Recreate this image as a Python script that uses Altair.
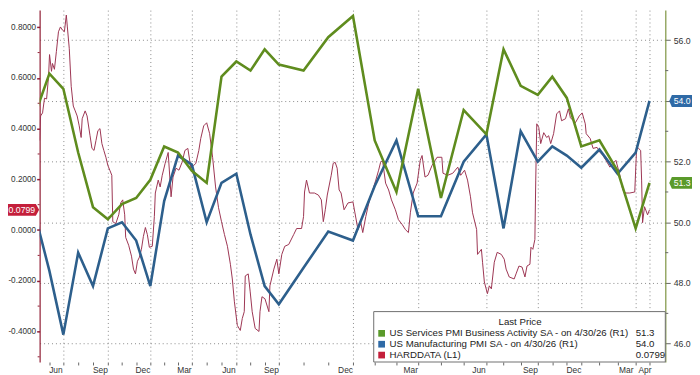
import altair as alt
import pandas as pd

# ---------------- data (month index: 0 = Jun 2023 month-end, 34 = Apr 2026) -------------
MONTH_IDX = list(range(-2, 35))
SERVICES = [53.6, 54.9, 54.4, 52.3, 50.5, 50.1, 50.6, 50.8, 51.4,
            52.5, 52.3, 51.7, 51.3, 54.8, 55.3, 55.0, 55.7, 55.2, 55.0, 56.1, 56.8,
            52.7, 51.0, 54.4, 50.8, 53.7, 52.9, 55.7, 54.5, 54.2, 54.8, 54.1, 52.5,
            52.7, 51.7, 49.8, 51.3]
MANUF = [50.2, 48.4, 46.3, 49.0, 47.9, 49.8, 50.0, 49.4, 47.9,
         50.7, 52.2, 51.9, 50.0, 51.3, 51.6, 49.6, 47.9, 47.3, 48.5, 49.7, 49.4,
         51.2, 52.7, 50.2, 50.2, 52.0, 52.9, 49.8, 53.0, 52.0, 52.5, 52.2, 51.8,
         52.4, 51.6, 52.3, 54.0]

HARD_M = [-1.70, -1.63, -1.49, -1.35, -1.20, -1.06, -0.99, -0.85, -0.78, -0.64, -0.50, -0.35, -0.21, -0.07,
          0.07, 0.20, 0.27, 0.40, 0.53, 0.67, 0.80, 0.93, 1.07, 1.20, 1.27, 1.47, 1.60, 1.80, 1.93, 2.07,
          2.20, 2.33, 2.47, 2.60, 2.73, 2.87, 3.00,
          3.14, 3.28, 3.35, 3.56, 3.77, 3.91, 4.05, 4.19, 4.26, 4.47, 4.67, 4.81, 4.95, 5.09, 5.23, 5.37,
          5.51, 5.65, 5.79, 5.93,
          6.14, 6.29, 6.36, 6.57, 6.71, 6.86, 7.07, 7.29, 7.50, 7.64, 7.86, 8.07, 8.29, 8.50, 8.71, 8.93,
          9.13, 9.27, 9.47, 9.60, 9.80, 10.00, 10.20, 10.40, 10.60, 10.80, 11.00, 11.20, 11.40, 11.60,
          11.73, 11.87,
          12.07, 12.28, 12.42, 12.56, 12.63, 12.84, 12.98, 13.12, 13.33, 13.60, 13.67, 13.81, 14.02,
          14.30, 14.37, 14.65, 14.86,
          15.00, 15.12, 15.24, 15.40, 15.60, 15.72, 15.92, 16.00, 16.04, 16.12, 16.24, 16.44, 16.60,
          16.72, 16.80, 16.88, 16.96, 17.12, 17.20, 17.28, 17.36, 17.44, 17.52, 17.64, 17.80,
          18.00, 18.09, 18.23, 18.36, 18.45, 18.59, 18.73, 18.91, 19.05, 19.18, 19.27, 19.36, 19.50,
          19.64, 19.77, 19.95, 20.09, 20.27, 20.41, 20.55, 20.64, 20.77, 20.95,
          21.09, 21.17, 21.30, 21.43, 21.61, 21.83, 22.04, 22.09, 22.30, 22.52, 22.74, 22.87, 23.04,
          23.17, 23.30, 23.39, 23.57, 23.61, 23.78, 23.83, 23.91,
          24.06, 24.17, 24.29, 24.46, 24.63, 24.87, 25.04, 25.15, 25.33, 25.62, 25.73, 25.90, 26.08,
          26.25, 26.37, 26.54, 26.60, 26.71, 26.83, 26.88, 26.94,
          27.07, 27.20, 27.41, 27.61, 27.75, 27.89, 28.09, 28.30, 28.50, 28.64, 28.91, 29.11, 29.25,
          29.59, 29.86,
          30.05, 30.22, 30.27, 30.49, 30.65, 30.87, 31.04, 31.20, 31.36, 31.58, 31.75, 31.91, 32.13,
          32.29, 32.45, 32.67, 32.95,
          33.07, 33.21, 33.36, 33.43, 33.50, 33.64, 33.86, 34.00]
HARD_V = [0.353, 0.450, 0.462, 0.520, 0.517, 0.606, 0.692, 0.626, 0.657, 0.634, 0.704, 0.782, 0.801, 0.789,
          0.782, 0.848, 0.801, 0.715, 0.567, 0.489, 0.470, 0.450, 0.411, 0.365, 0.439, 0.470, 0.450, 0.372,
          0.322, 0.314, 0.353, 0.392, 0.400, 0.341, 0.314, 0.287, 0.255,
          0.236, 0.216, 0.033, 0.025, 0.060, 0.107, 0.119, 0.060, -0.029, -0.060, -0.103, -0.154, -0.173,
          -0.123, -0.107, -0.076, -0.025, 0.010, -0.018, -0.068,
          -0.064, 0.053, 0.146, 0.197, 0.170, 0.216, 0.263, 0.306, 0.131, 0.209, 0.244, 0.236, 0.267,
          0.314, 0.322, 0.244,
          0.255, 0.263, 0.314, 0.361, 0.411, 0.423, 0.380, 0.287, 0.170, 0.088, 0.033, -0.018, -0.064,
          -0.135, -0.193, -0.283,
          -0.376, -0.396, -0.349, -0.322, -0.181, -0.173, -0.244, -0.322, -0.388, -0.400, -0.322, -0.263,
          -0.271, -0.322, -0.220, -0.154, -0.115,
          -0.173, -0.096, -0.064, -0.057, -0.018, 0.006, 0.006, 0.053, 0.150, 0.197, 0.146, 0.146, 0.138,
          0.119, 0.033, 0.080, 0.138, 0.216, 0.263, 0.267, 0.244, 0.158, 0.146, 0.080, 0.107,
          0.111, 0.068, 0.002, 0.029, -0.010, 0.053, 0.107, 0.158, 0.197, 0.236, 0.267, 0.275, 0.185,
          0.158, 0.119, 0.080, 0.041, 0.021, 0.002, -0.010, 0.068, 0.146, 0.185,
          0.275, 0.294, 0.209, 0.216, 0.255, 0.287, 0.287, 0.224, 0.216, 0.224, 0.248, 0.216, 0.236,
          0.197, 0.131, 0.068, 0.002, -0.096, -0.076, -0.127, -0.205,
          -0.251, -0.220, -0.232, -0.127, -0.088, -0.096, -0.115, -0.154, -0.185, -0.193, -0.173, -0.142,
          -0.146, -0.185, -0.142, -0.135, -0.068, -0.076, -0.037, 0.197, 0.419,
          0.404, 0.341, 0.384, 0.365, 0.372, 0.341, 0.380, 0.458, 0.470, 0.431, 0.439, 0.478, 0.443,
          0.423, 0.450,
          0.462, 0.419, 0.380, 0.361, 0.322, 0.326, 0.306, 0.294, 0.275, 0.248, 0.263, 0.275, 0.216,
          0.158, 0.146, 0.146, 0.150,
          0.326, 0.322, 0.314, 0.197, 0.029, 0.092, 0.060, 0.0799]

QUARTER_NAMES = ["Jun", "Sep", "Dec", "Mar"]
LAST_LABEL = "Apr"
LEFT_TICKS = [-0.4, -0.2, 0.0, 0.2, 0.4, 0.6, 0.8]
LEFT_MINOR = [-0.5, -0.3, -0.1, 0.1, 0.3, 0.5, 0.7]
RIGHT_TICKS = [46, 48, 50, 52, 54, 56]
RIGHT_MINOR = [47, 49, 51, 53, 55]
LEGEND_NAMES = ["US Services PMI Business Activity SA -  on 4/30/26  (R1)",
                "US Manufacturing PMI SA -  on 4/30/26  (R1)",
                "HARDDATA  (L1)"]
LEGEND_VALUES = [f"{SERVICES[-1]:.1f}", f"{MANUF[-1]:.1f}", f"{HARD_V[-1]:.4f}"]

# ---------------- styling ----------------
GREEN = "#5f8c1e"
BLUE = "#2d5f8c"
RED = "#9c3552"
TAG_RED = "#c41f3b"
TAG_BLUE = "#2f6aa6"
TAG_GREEN = "#5a9a2a"
AXIS_RED = "#8f1c33"
AXIS_GREEN = "#7d9440"
GRID = "#8a8a8a"
FONT = "Liberation Sans, Arial, sans-serif"
AX_FS = 8.8
LEFT_FS = 8.3

W, H = 633, 356
# piecewise x scale (the source chart spaces its quarters unevenly)
X_DOMAIN = [-1.7, 0, 3, 6, 9, 12, 15, 18, 21, 24, 27, 30, 33, 34, 35]
X_RANGE = [0, 24, 69, 112, 154, 199, 242, 317, 383, 452, 504, 548, 603, 617, 633]
x_scale = alt.Scale(domain=X_DOMAIN, range=X_RANGE, zero=False, nice=False)
left_scale = alt.Scale(domain=[-0.5205, 0.8674], zero=False, nice=False)
right_scale = alt.Scale(domain=[45.397, 56.993], zero=False, nice=False)

label_expr = ("datum.value == 34 ? '" + LAST_LABEL + "' : (datum.value % 3 == 0 ? "
              + str(QUARTER_NAMES) + "[(datum.value / 3) % 4] : '')")
x_axis = alt.Axis(values=list(range(-1, 35)), labelExpr=label_expr, title=None,
                  grid=True, gridColor=GRID, gridDash=[1, 3], gridWidth=1,
                  gridOpacity={"condition": {"test": "datum.value % 3 == 0 || datum.value == 34",
                                             "value": 1}, "value": 0},
                  domain=False, ticks=True, tickSize=3, tickColor="#666",
                  labelFont=FONT, labelFontSize=8.5, labelColor="#333", labelPadding=1,
                  labelOffset={"condition": [{"test": "datum.value == 33", "value": -10},
                                             {"test": "datum.value == 34", "value": -5}],
                               "value": -8},
                  labelOverlap=False, labelBound=False, labelFlush=False)
left_axis = alt.Axis(orient="left", values=LEFT_TICKS, title=None, grid=False,
                     labelExpr="replace(format(datum.value, '.4f'), '\u2212', '-')",
                     domainColor=AXIS_RED, domainWidth=1.2, tickColor=AXIS_RED, tickSize=3, tickWidth=1.5,
                     labelFont=FONT, labelFontSize=LEFT_FS, labelColor="#333", labelPadding=1,
                     labelBound=False, labelFlush=False)
right_axis = alt.Axis(orient="right", values=RIGHT_TICKS, format=".1f", title=None,
                      grid=True, gridColor=GRID, gridDash=[1, 3], gridWidth=1,
                      labelExpr="datum.value == " + str(MANUF[-1]) + " ? '' : format(datum.value, '.1f')",
                      domainColor=AXIS_GREEN, domainWidth=1.2, tickColor="#666", tickSize=5,
                      labelFont=FONT, labelFontSize=AX_FS, labelColor="#333", labelPadding=3)

hard_df = pd.DataFrame({"m": HARD_M, "v": HARD_V})
pmi_df = pd.concat([
    pd.DataFrame({"m": MONTH_IDX, "val": MANUF, "series": "Manufacturing"}),
    pd.DataFrame({"m": MONTH_IDX, "val": SERVICES, "series": "Services"}),
])

# ---------------- left (HARDDATA) group ----------------
hard_line = alt.Chart(hard_df).mark_line(color=RED, strokeWidth=1, clip=True).encode(
    x=alt.X("m:Q", scale=x_scale, axis=x_axis),
    y=alt.Y("v:Q", scale=left_scale, axis=left_axis),
)
left_minor = alt.Chart(pd.DataFrame({"v": LEFT_MINOR})).mark_rule(color=AXIS_RED, strokeWidth=1).encode(
    x=alt.value(-2), x2=alt.value(0), y=alt.Y("v:Q", scale=left_scale, axis=left_axis))
left_tag_df = pd.DataFrame({"v": [HARD_V[-1]], "t": [LEGEND_VALUES[2]]})
TAG_RIGHT_PATH = "M-1,-0.36 L0.8,-0.36 L1,0 L0.8,0.36 L-1,0.36 Z"
TAG_LEFT_PATH = "M-1,0 L-0.78,-0.5 L1,-0.5 L1,0.5 L-0.78,0.5 Z"
left_tag = alt.Chart(left_tag_df).mark_point(shape=TAG_RIGHT_PATH, size=1089, filled=True,
                                              fill=TAG_RED, opacity=1, strokeWidth=0).encode(
    x=alt.value(-17), y=alt.Y("v:Q", scale=left_scale, axis=left_axis))
left_tag_txt = alt.Chart(left_tag_df).mark_text(color="white", font=FONT, fontSize=AX_FS,
                                                 align="center", baseline="middle").encode(
    x=alt.value(-18), y=alt.Y("v:Q", scale=left_scale, axis=left_axis), text="t:N")
left_group = alt.layer(hard_line, left_minor, left_tag, left_tag_txt)

# ---------------- right (PMI) group ----------------
pmi_lines = alt.Chart(pmi_df).mark_line(strokeWidth=2.6, clip=True).encode(
    x=alt.X("m:Q", scale=x_scale, axis=x_axis),
    y=alt.Y("val:Q", scale=right_scale, axis=right_axis),
    color=alt.Color("series:N", scale=alt.Scale(domain=["Manufacturing", "Services"],
                                                range=[BLUE, GREEN]), legend=None),
)
right_minor = alt.Chart(pd.DataFrame({"val": RIGHT_MINOR})).mark_rule(color="#666", strokeWidth=1).encode(
    x=alt.value(W), x2=alt.value(W + 3), y=alt.Y("val:Q", scale=right_scale, axis=right_axis))
right_tag_df = pd.DataFrame({"val": [MANUF[-1], SERVICES[-1]],
                             "t": [LEGEND_VALUES[1], LEGEND_VALUES[0]],
                             "series": ["Manufacturing", "Services"]})
right_tag = alt.Chart(right_tag_df).mark_point(shape=TAG_LEFT_PATH, size=576, filled=True,
                                                opacity=1, strokeWidth=0).encode(
    x=alt.value(W + 16), y=alt.Y("val:Q", scale=right_scale, axis=right_axis),
    fill=alt.Fill("series:N", scale=alt.Scale(domain=["Manufacturing", "Services"],
                                              range=[TAG_BLUE, TAG_GREEN]), legend=None))
right_tag_txt = alt.Chart(right_tag_df).mark_text(color="white", font=FONT, fontSize=AX_FS,
                                                   align="center", baseline="middle").encode(
    x=alt.value(W + 17), y=alt.Y("val:Q", scale=right_scale, axis=right_axis), text="t:N")
right_group = alt.layer(pmi_lines, right_minor, right_tag, right_tag_txt)

# ---------------- legend box ----------------
LEG_FS = 9.8
legend_layers = []
box = alt.Chart(pd.DataFrame({"a": [0]})).mark_rect(fill="white", stroke="#6f6f6f", strokeWidth=1).encode(
    x=alt.value(338), x2=alt.value(W), y=alt.value(305), y2=alt.value(H))
legend_layers.append(box)
legend_layers.append(alt.Chart(pd.DataFrame({"t": ["Last Price"]})).mark_text(
    font=FONT, fontSize=LEG_FS, color="#222", align="center", baseline="middle").encode(
    x=alt.value(486), y=alt.value(316), text="t:N"))
LEG_COLORS = [TAG_GREEN, TAG_BLUE, TAG_RED]
for i, (name, val, col) in enumerate(zip(LEGEND_NAMES, LEGEND_VALUES, LEG_COLORS)):
    row_df = pd.DataFrame({"name": [name], "val": [val]})
    yy = 327 + 11 * i
    legend_layers.append(alt.Chart(row_df).mark_point(shape="square", filled=True, size=46,
                                                      color=col, opacity=1).encode(
        x=alt.value(346), y=alt.value(yy)))
    legend_layers.append(alt.Chart(row_df).mark_text(font=FONT, fontSize=LEG_FS, color="#222",
                                                     align="left", baseline="middle").encode(
        x=alt.value(354), y=alt.value(yy), text="name:N"))
    legend_layers.append(alt.Chart(row_df).mark_text(font=FONT, fontSize=LEG_FS, color="#222",
                                                     align="left", baseline="middle").encode(
        x=alt.value(603), y=alt.value(yy), text="val:N"))
legend_group = alt.layer(*legend_layers)

chart = alt.layer(left_group, right_group, legend_group).resolve_scale(
    y="independent", fill="independent", color="independent"
).properties(
    width=W, height=H,
    autosize=alt.AutoSizeParams(type="none"),
    padding={"left": 32, "top": 0, "right": 27, "bottom": 11},
    background="white",
).configure_view(stroke=None)

chart.save("out.html", embed_options={"renderer": "svg", "actions": False})
